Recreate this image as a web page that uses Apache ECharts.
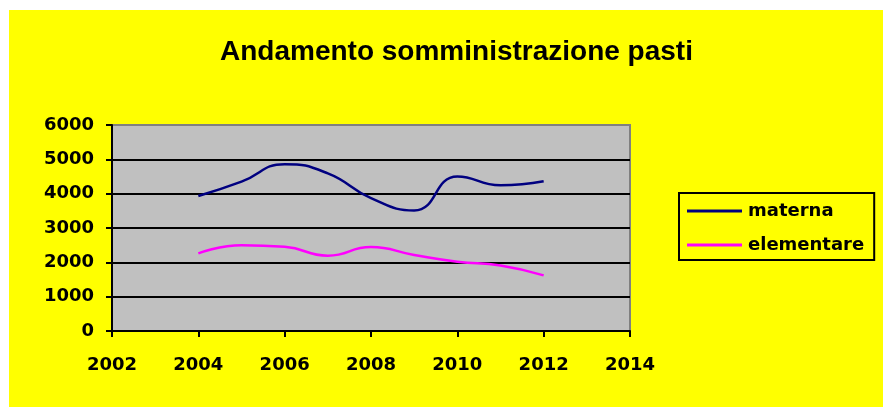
<!DOCTYPE html>
<html>
<head>
<meta charset="utf-8">
<script src="https://cdn.jsdelivr.net/npm/echarts@6/dist/echarts.min.js"></script>
<style>
  html, body { margin: 0; padding: 0; background: #ffffff; }
  #chart { position: absolute; left: 9px; top: 10px; width: 874px; height: 397px; background: #FFFF00; }
</style>
</head>
<body>
<div id="chart"></div>
<script>
const titleText = 'Andamento somministrazione pasti';
const years = [2004, 2005, 2006, 2007, 2008, 2009, 2010, 2011, 2012];
const materna = [3930, 4350, 4860, 4590, 3870, 3510, 4500, 4245, 4360];
const elementare = [2260, 2500, 2455, 2195, 2445, 2215, 2020, 1905, 1620];
const seriesNames = ['materna', 'elementare'];
const xTicks = [2002, 2014, 2];
const yTicks = [0, 6000, 1000];

const tickFont = { fontFamily: 'DejaVu Sans', fontWeight: 'bold', fontSize: 18, color: '#000' };
const plain = v => String(v);

const chart = echarts.init(document.getElementById('chart'), null, { renderer: 'canvas' });
chart.setOption({
  backgroundColor: '#FFFF00',
  animation: false,
  title: {
    text: titleText,
    left: 206,
    top: 23,
    textStyle: { fontFamily: 'Liberation Sans', fontWeight: 'bold', fontSize: 28, color: '#000' }
  },
  legend: {
    orient: 'vertical',
    left: 670,
    top: 183,
    data: seriesNames,
    backgroundColor: '#FFFF00',
    borderColor: '#000',
    borderWidth: 2,
    padding: [9, 10, 6, 8],
    itemGap: 16,
    itemWidth: 55,
    itemHeight: 3,
    icon: 'rect',
    textStyle: { fontFamily: 'DejaVu Sans', fontWeight: 'bold', fontSize: 18, color: '#000', padding: [0, 0, 0, 1] }
  },
  grid: {
    left: 103, top: 115, width: 518, height: 206,
    show: true, backgroundColor: '#C0C0C0', borderColor: '#808080', borderWidth: 2
  },
  xAxis: {
    type: 'value', min: xTicks[0], max: xTicks[1], interval: xTicks[2],
    axisLine: { show: true, onZero: false, lineStyle: { color: '#000', width: 2 } },
    axisTick: { show: true, inside: false, length: 6, lineStyle: { color: '#000', width: 2 } },
    axisLabel: Object.assign({ margin: 25, formatter: plain }, tickFont),
    splitLine: { show: false }
  },
  yAxis: {
    type: 'value', min: yTicks[0], max: yTicks[1], interval: yTicks[2],
    axisLine: { show: true, lineStyle: { color: '#000', width: 2 } },
    axisTick: { show: true, inside: false, length: 6, lineStyle: { color: '#000', width: 2 } },
    axisLabel: Object.assign({ margin: 18, formatter: plain }, tickFont),
    splitLine: { show: true, lineStyle: { color: ['#000', '#000', '#000', '#000', '#000', '#000', '#808080'], width: 2 } }
  },
  series: [
    {
      name: seriesNames[0], type: 'line', smooth: 0.5, showSymbol: false,
      data: years.map((y, i) => [y, materna[i]]),
      lineStyle: { color: '#000080', width: 2.5 }, itemStyle: { color: '#000080' }
    },
    {
      name: seriesNames[1], type: 'line', smooth: 0.5, showSymbol: false,
      data: years.map((y, i) => [y, elementare[i]]),
      lineStyle: { color: '#FF00FF', width: 2.5 }, itemStyle: { color: '#FF00FF' }
    }
  ]
});
</script>
</body>
</html>
